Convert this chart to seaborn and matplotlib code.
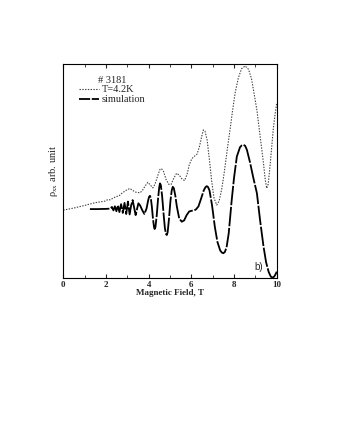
import pandas as pd
import matplotlib
matplotlib.use("Agg")
import matplotlib.pyplot as plt
import seaborn as sns
from matplotlib.ticker import MultipleLocator

# measured curve, T=4.2K (field in T, rho_xx in arb. units)
exp_field = [0.0, 0.5, 1.0, 1.5, 1.95, 2.1, 2.2, 2.35, 2.5, 2.6, 2.74, 2.9, 3.05, 3.13,
             3.25, 3.4, 3.6, 3.72, 3.83, 3.96, 4.08, 4.2, 4.3, 4.42, 4.53, 4.6, 4.7,
             4.82, 4.95, 5.05, 5.18, 5.31, 5.43, 5.55, 5.68, 5.8, 5.9, 6.02, 6.15, 6.27,
             6.38, 6.48, 6.56, 6.64, 6.74, 6.85, 6.95, 7.06, 7.19, 7.3, 7.42, 7.55, 7.68,
             7.8, 7.92, 8.05, 8.2, 8.35, 8.52, 8.68, 8.82, 8.95, 9.07, 9.2, 9.3, 9.38,
             9.46, 9.53, 9.6, 9.69, 9.77, 9.84, 9.92, 10.0]
exp_rho = [31.8, 32.8, 34.0, 35.3, 36.0, 36.8, 36.6, 37.5, 38.2, 38.4, 39.6, 40.8, 41.6, 41.9,
           41.0, 40.2, 39.9, 41.2, 43.0, 44.8, 43.5, 42.2, 44.0, 47.8, 50.8, 51.2, 49.8,
           46.0, 43.8, 43.8, 46.8, 49.0, 48.2, 46.5, 45.6, 48.5, 52.9, 55.8, 57.0, 58.0,
           61.5, 66.0, 69.2, 68.6, 64.5, 55.0, 45.5, 37.5, 34.2, 36.0, 41.5, 50.0, 60.0,
           68.5, 77.5, 86.5, 93.5, 97.8, 99.1, 97.5, 93.0, 85.5, 78.5, 68.0, 60.0, 53.5,
           46.0, 42.0, 44.0, 53.0, 62.0, 70.0, 76.5, 81.7]

# simulation
sim_field = [1.25, 1.6, 2.0, 2.2, 2.28, 2.35, 2.42, 2.49, 2.56, 2.63, 2.71, 2.79, 2.87, 2.95,
             3.03, 3.11, 3.18, 3.25, 3.32, 3.39, 3.46, 3.52, 3.6, 3.7, 3.8, 3.9, 3.98,
             4.02, 4.06, 4.1, 4.15, 4.2, 4.25, 4.28, 4.32, 4.38, 4.44, 4.49, 4.53, 4.57,
             4.63, 4.7, 4.76, 4.81, 4.85, 4.89, 4.95, 5.02, 5.08, 5.13, 5.18, 5.25, 5.32,
             5.43, 5.55, 5.66, 5.78, 5.9, 6.05, 6.2, 6.33, 6.45, 6.58, 6.66, 6.72, 6.78,
             6.85, 6.97, 7.1, 7.22, 7.35, 7.43, 7.5, 7.57, 7.65, 7.75, 7.89, 8.0, 8.13,
             8.28, 8.36, 8.44, 8.52, 8.6, 8.75, 8.9, 9.07, 9.22, 9.38, 9.5, 9.62, 9.72,
             9.8, 9.88, 9.95, 10.0]
sim_rho = [32.3, 32.3, 32.4, 32.5, 33.3, 31.7, 33.6, 31.3, 34.0, 30.9, 34.6, 30.5, 35.2, 30.0,
           35.8, 29.8, 34.0, 36.5, 33.0, 29.5, 32.5, 35.0, 34.0, 31.8, 30.0, 32.5, 36.5,
           38.0, 38.5, 37.5, 33.5, 28.0, 24.0, 23.0, 24.0, 29.5, 37.0, 42.0, 44.3, 43.5,
           38.5, 30.0, 23.5, 20.7, 20.2, 21.5, 27.5, 36.0, 41.0, 42.7, 42.0, 38.5, 33.5,
           28.0, 26.4, 27.0, 29.5, 31.2, 31.6, 32.0, 33.5, 37.0, 41.0, 42.5, 43.0, 42.6,
           41.0, 34.0, 24.0, 17.0, 13.0, 12.0, 11.7, 12.3, 14.5, 21.0, 36.5, 47.0, 56.8,
           61.2, 62.0, 62.3, 61.8, 60.0, 54.0, 47.0, 39.7, 27.0, 14.8, 7.5, 3.0, 0.8,
           0.3, 0.8, 2.0, 3.1]

exp_df = pd.DataFrame({"B": exp_field, "rho": exp_rho})
sim_df = pd.DataFrame({"B": sim_field, "rho": sim_rho})

sns.set_style("ticks")
plt.rcParams["font.family"] = ["Liberation Serif", "DejaVu Serif"]
plt.rcParams["mathtext.fontset"] = "stix"
plt.rcParams["lines.scale_dashes"] = False

fig = plt.figure(figsize=(3.4, 4.4), dpi=100)
ax = fig.add_axes([0.186, 0.3675, 0.628, 0.487])

sns.lineplot(data=exp_df, x="B", y="rho", ax=ax, color="0.25", linestyle=(0, (1, 1)),
             linewidth=0.8, label="T=4.2K")
sns.lineplot(data=sim_df, x="B", y="rho", ax=ax, color="black", linewidth=1.3,
             label="simulation")
ax.lines[-1].set_dashes([14, 1.2])

ax.set_xlim(0, 10)
ax.set_ylim(0, 100)
ax.xaxis.set_major_locator(MultipleLocator(2))
ax.xaxis.set_minor_locator(MultipleLocator(1))
ax.set_yticks([])
ax.tick_params(axis="x", which="both", direction="in", top=True, labelsize=6.5, pad=2)
ax.tick_params(axis="x", which="major", length=3, width=0.8)
ax.tick_params(axis="x", which="minor", length=2, width=0.6)
for lbl in ax.get_xticklabels():
    lbl.set_fontweight("bold")
for sp in ax.spines.values():
    sp.set_linewidth(0.8)
    sp.set_color("black")

ax.set_xlabel("Magnetic Field, T", fontsize=6.5, fontweight="bold", labelpad=0)
ax.set_ylabel(r"ρ$_\mathrm{xx}$ arb. unit", fontsize=7.5, labelpad=2)

leg = ax.legend(title="# 3181", loc="upper left", bbox_to_anchor=(0.04, 0.98),
                frameon=False, fontsize=7.5, title_fontsize=7.5, handlelength=1.9,
                handletextpad=0.3, labelspacing=0.05, borderpad=0.2)
leg.get_lines()[1].set_dashes([8, 1.2])

ax.text(0.915, 0.055, "b)", transform=ax.transAxes, fontsize=7,
        family=["Liberation Sans", "DejaVu Sans"], ha="center", va="center")

fig.savefig("out.png", dpi=100)
